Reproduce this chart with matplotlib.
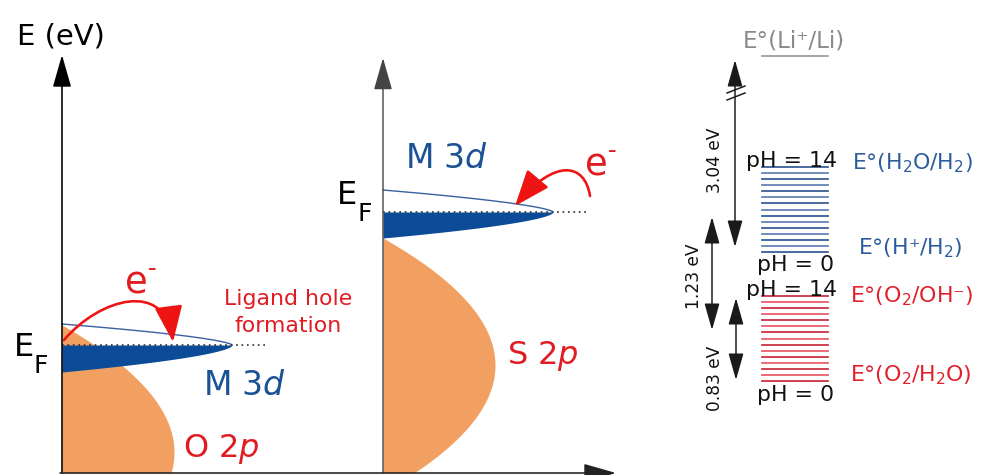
import numpy as np
import matplotlib
matplotlib.use("Agg")
import matplotlib.pyplot as plt
from matplotlib.patches import FancyArrowPatch
from matplotlib.path import Path

plt.rcParams['font.family'] = ['DejaVu Sans']
plt.rcParams['mathtext.fontset'] = 'dejavusans'

# ---------------- data (pixel-space schematic) ----------------
panel_x0 = [62, 383]            # energy axis positions of the two panels
fermi_level = [345, 212]        # E_F height in each panel
d_top = [324, 190]              # top of M 3d band at the axis
d_bottom = [372, 238]           # bottom of M 3d band at the axis
d_width = [170, 170]            # reach of M 3d band
p_top = [325, 238]              # top of ligand p band
p_halfheight = [127, 127]
p_width = [112, 112]
p_labels = ["O 2$p$", "S 2$p$"]
d_label = "M 3$d$"

ph_values = list(range(15))     # pH 0 ... 14
ph_spacing = 6.07               # vertical shift per pH unit
couple_ph0_y = [252, 381]       # pH = 0 line of H+/H2 and O2/H2O
couple_colors = [['#2d5690', '#5a7db0'], ['#c9253a', '#e85564']]

gap_values = ["3.04 eV", "1.23 eV", "0.83 eV"]
gap_x = [735, 712, 736]
gap_y0 = [60, 217, 298]
gap_y1 = [247, 330, 380]

# ---------------- colours ----------------
orange = '#f2a062'
blue_fill = '#0b4b97'
blue_line = '#3a62a0'
blue_text = '#1b5294'
red_text = '#e11b22'
red_arrow = '#ee1414'

W, H = 981, 475
fig = plt.figure(figsize=(W / 72, H / 72), dpi=72)
ax = fig.add_axes([0, 0, 1, 1])
ax.set_xlim(0, W)
ax.set_ylim(H, 0)
ax.axis('off')

axis_bottom = 473

# ---------------- bands ----------------
for i in range(2):
    x0 = panel_x0[i]
    # ligand p band (parabolic DOS)
    c = p_top[i] + p_halfheight[i]
    y = np.linspace(p_top[i], axis_bottom, 400)
    xp = x0 + p_width[i] * np.clip(1 - ((y - c) / p_halfheight[i]) ** 2, 0, None)
    ax.fill_betweenx(y, x0, xp, color=orange, lw=0, zorder=1)

    # metal d band
    ef = fermi_level[i]
    t = np.linspace(0, 1, 400)
    x = x0 + d_width[i] * t
    y_top = ef - (ef - d_top[i]) * (1 - t) ** 0.65
    y_bot = ef + (d_bottom[i] - ef) * (1 - t) ** 0.6
    ax.fill_between(x, ef, y_bot, color=blue_fill, lw=0, zorder=2)
    ax.plot(x, y_top, color=blue_line, lw=1.4, zorder=3)
    ax.plot([x0, x0 + d_width[i] + 35], [ef, ef], color='#333333', lw=1.7,
            linestyle=(0, (1, 2.2)), zorder=4)

# ---------------- axes arrows ----------------
def arrow(p0, p1, style, color, lw, z=5):
    a = FancyArrowPatch(p0, p1, arrowstyle=style, mutation_scale=1, color=color,
                        lw=lw, shrinkA=0, shrinkB=0, zorder=z)
    ax.add_patch(a)

arrow((62, axis_bottom), (62, 55), '-|>,head_length=28,head_width=8', 'black', 1.6)
arrow((383, axis_bottom), (383, 58), '-|>,head_length=28,head_width=8', '#444444', 1.4)
arrow((60, axis_bottom), (616, axis_bottom), '-|>,head_length=28,head_width=8', '#222222', 1.6)

# ---------------- red electron arrows ----------------
def curved(pts, z=6):
    codes = [Path.MOVETO, Path.CURVE4, Path.CURVE4, Path.CURVE4]
    a = FancyArrowPatch(path=Path(pts, codes),
                        arrowstyle='-|>,head_length=31,head_width=12',
                        mutation_scale=1, color=red_arrow, lw=2.6, zorder=z)
    ax.add_patch(a)

curved([(64, 340), (100, 298), (165, 280), (173, 342)])
curved([(590, 196), (585, 163), (555, 158), (515, 206)])

# ---------------- texts: left part ----------------
ax.text(17, 44, "E (eV)", fontsize=29, color='black', va='baseline')
for i, (xe, ybase) in enumerate([(14, 356), (337, 204)]):
    ax.text(xe, ybase, "E", fontsize=32, color='black', va='baseline')
    ax.text(xe + 20, ybase + 17, "F", fontsize=25, color='black', va='baseline')

ax.text(203, 395, d_label, fontsize=33, color=blue_text, va='baseline')
ax.text(405, 168, d_label, fontsize=33, color=blue_text, va='baseline')
ax.text(183, 457, p_labels[0], fontsize=32, color=red_text, va='baseline')
ax.text(507, 364, p_labels[1], fontsize=32, color=red_text, va='baseline')
ax.text(288, 305, "Ligand hole", fontsize=22, color=red_text, ha='center', va='baseline')
ax.text(288, 332, "formation", fontsize=22, color=red_text, ha='center', va='baseline')

ax.text(125, 294, "e", fontsize=37, color=red_text, va='baseline')
ax.text(148, 276, "-", fontsize=24, color=red_text, va='baseline')
ax.text(585, 176, "e", fontsize=37, color=red_text, va='baseline')
ax.text(608, 158, "-", fontsize=24, color=red_text, va='baseline')

# ---------------- right part: redox levels ----------------
for k in range(2):
    for ph in ph_values:
        yl = couple_ph0_y[k] - ph * ph_spacing
        ax.plot([762, 828], [yl, yl], color=couple_colors[k][ph % 2], lw=1.7, zorder=3)

ax.plot([762, 828], [56, 56], color='#8a8a8a', lw=1.5)
ax.text(743, 48, "E°(Li⁺/Li)", fontsize=23, color='#8a8a8a', va='baseline')

ax.text(792, 167, "pH = 14", fontsize=22, color='#111111', ha='center', va='baseline')
ax.text(796, 271, "pH = 0", fontsize=22, color='#111111', ha='center', va='baseline')
ax.text(792, 296, "pH = 14", fontsize=22, color='#111111', ha='center', va='baseline')
ax.text(796, 401, "pH = 0", fontsize=22, color='#111111', ha='center', va='baseline')

ax.text(852, 169, "E°(H$_2$O/H$_2$)", fontsize=22, color='#2b5c9c', va='baseline')
ax.text(858, 254, "E°(H⁺/H$_2$)", fontsize=22, color='#2b5c9c', va='baseline')
ax.text(850, 302, "E°(O$_2$/OH⁻)", fontsize=22, color='#e0202a', va='baseline')
ax.text(850, 381, "E°(O$_2$/H$_2$O)", fontsize=22, color='#e0202a', va='baseline')

for xg, y0, y1, lab in zip(gap_x, gap_y0, gap_y1, gap_values):
    arrow((xg, y1), (xg, y0), '<|-|>,head_length=23,head_width=6.5', '#1a1a1a', 1.5)
for lab, xt, yt in zip(gap_values, [715, 694, 715], [160, 276, 378]):
    ax.text(xt, yt, lab, fontsize=17, rotation=90, ha='center', va='center', color='#111111')

# break marks on the 3.04 eV arrow
ax.plot([727, 745], [93, 86], color='#1a1a1a', lw=1.5, zorder=6)
ax.plot([727, 745], [100, 93], color='#1a1a1a', lw=1.5, zorder=6)

fig.savefig("out.png", dpi=72)
